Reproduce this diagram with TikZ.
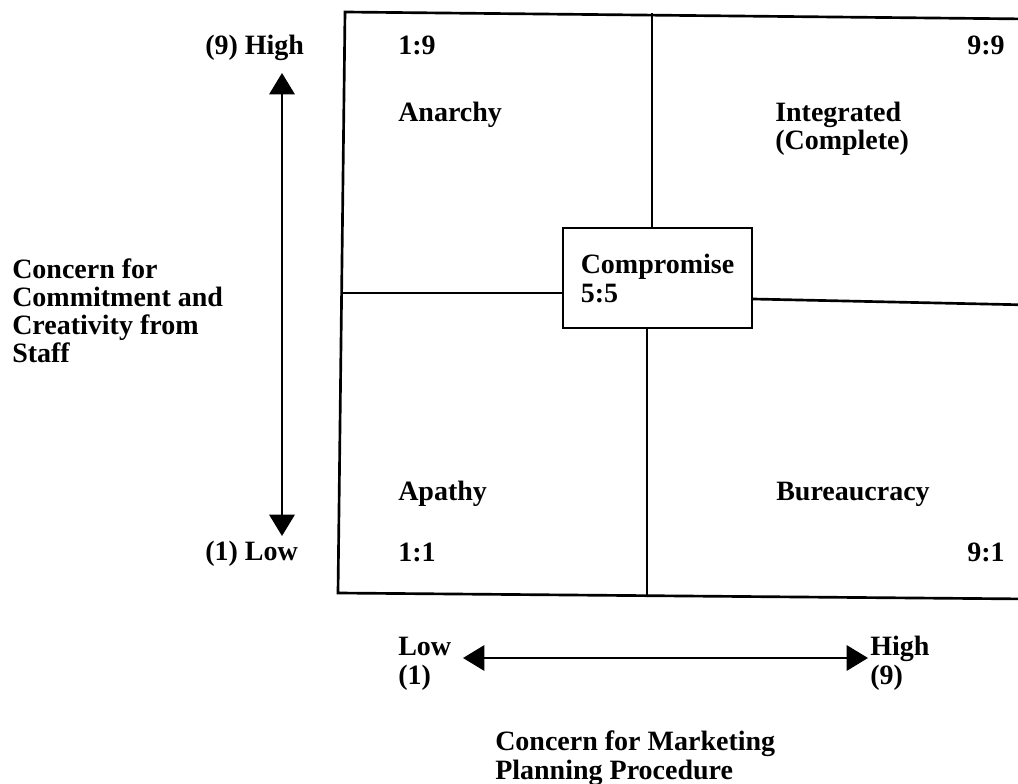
\documentclass[tikz,border=0pt]{standalone}
\usepackage{fontspec}
\setmainfont{Liberation Serif}
\usetikzlibrary{arrows.meta}

\begin{document}
\begin{tikzpicture}[x=0.75pt,y=-0.75pt,
    lbl/.style={inner sep=0pt, font=\fontsize{21}{21.75}\selectfont\bfseries, align=left},
    gridline/.style={line width=2pt},
    axis/.style={line width=1.6pt, {Triangle[length=16pt,width=19pt]}-{Triangle[length=16pt,width=19pt]}}]

    %%%%% START %%%%%

    \useasboundingbox (0,0) rectangle (1018,784);

    % outer grid
    \coordinate (gNW) at (345,12);
    \coordinate (gNE) at (1030,19);
    \coordinate (gSW) at (338,593);
    \coordinate (gSE) at (1030,599);
    \draw[gridline] (gNE) -- (gNW) -- (gSW) -- (gSE);

    % centre box
    \node[lbl, draw, line width=1.6pt, minimum width=141.75pt, minimum height=75pt]
        (comp) at (657.5,278) {Compromise\\5:5};

    % dividers
    \coordinate (gW) at (342,293);
    \coordinate (gE) at (1030,305);
    \coordinate (gN) at (652,13);
    \coordinate (gS) at (647,596);
    \draw[gridline] (gW) -- (gW -| comp.west);
    \draw[gridline] (comp.east |- 0,299) -- (gE);
    \draw[gridline] (gN) -- (gN |- comp.north);
    \draw[gridline] (gS |- comp.south) -- (gS);

    % quadrant labels
    \node[lbl, anchor=base west] (n19) at (398,55) {1:9};
    \node[lbl, anchor=base east] (n99) at (1005,55) {9:9};
    \node[lbl, anchor=base west] (anarchy) at (398,122) {Anarchy};
    \node[lbl, anchor=base west] (integ) at (775,122) {Integrated};
    \node[lbl, anchor=base west] (compl) at (775,150) {(Complete)};
    \node[lbl, anchor=base west] (apathy) at (398,500) {Apathy};
    \node[lbl, anchor=base west] (bureau) at (776,500) {Bureaucracy};
    \node[lbl, anchor=base west] (n11) at (398,561) {1:1};
    \node[lbl, anchor=base east] (n91) at (1005,561) {9:1};

    % vertical axis
    \coordinate (vTop) at (282,73);
    \coordinate (vBot) at (282,536);
    \draw[axis] (vTop) -- (vBot);
    \node[lbl, anchor=base west] (vHigh) at (205,55) {(9) High};
    \node[lbl, anchor=base west] (vLow) at (205,560) {(1) Low};
    \node[lbl, anchor=base west] (c1) at (12,279) {Concern for};
    \node[lbl, anchor=base west] (c2) at (12,307) {Commitment and};
    \node[lbl, anchor=base west] (c3) at (12,335) {Creativity from};
    \node[lbl, anchor=base west] (c4) at (12,363) {Staff};

    % horizontal axis
    \coordinate (hL) at (463,658);
    \coordinate (hR) at (868,658);
    \draw[axis] (hL) -- (hR);
    \node[lbl, anchor=base west] (hLow) at (398,655) {Low};
    \node[lbl, anchor=base west] (hLow1) at (398,684) {(1)};
    \node[lbl, anchor=base west] (hHigh) at (870,655) {High};
    \node[lbl, anchor=base west] (hHigh9) at (870,684) {(9)};
    \node[lbl, anchor=base west] (m1) at (495,750) {Concern for Marketing};
    \node[lbl, anchor=base west] (m2) at (495,779) {Planning Procedure};

    %%%%% END %%%%%
\end{tikzpicture}
\end{document}
